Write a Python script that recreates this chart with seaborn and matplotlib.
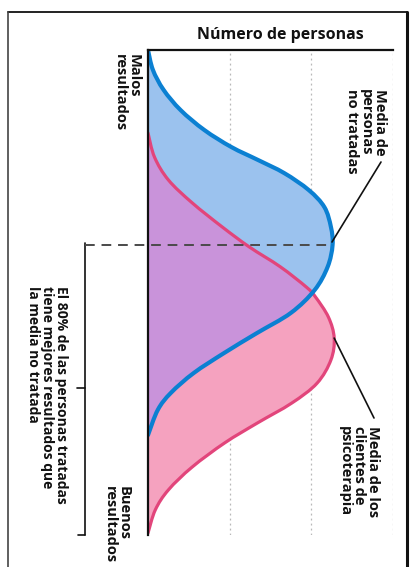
import numpy as np
import pandas as pd
import matplotlib
matplotlib.use("Agg")
import matplotlib.pyplot as plt
from matplotlib.patches import PathPatch
from matplotlib.path import Path
from matplotlib.lines import Line2D
import seaborn as sns

# ---- data ----
# outcome scale: 0 = worst (top) ... 10 = best (bottom); count in grid units
blue_outcome = [0.00, 0.41, 0.82, 1.24, 1.65, 2.00, 2.27, 2.54, 2.89, 3.24, 3.65,
                4.02, 4.47, 4.95, 5.42, 5.84, 6.25, 6.66, 7.07, 7.42, 7.94]
blue_count = [0.00, 0.06, 0.19, 0.40, 0.69, 1.02, 1.35, 1.67, 1.97, 2.16, 2.24,
              2.26, 2.20, 2.04, 1.75, 1.33, 0.93, 0.56, 0.28, 0.12, 0.00]
pink_outcome = [1.71, 2.21, 2.68, 3.15, 3.65, 4.06, 4.47, 4.89, 5.09, 5.51, 5.94,
                6.39, 6.87, 7.28, 7.69, 8.10, 8.60, 9.07, 9.48, 9.96]
pink_count = [0.00, 0.08, 0.25, 0.54, 0.91, 1.24, 1.62, 1.94, 2.05, 2.21, 2.28,
              2.24, 2.07, 1.76, 1.34, 0.94, 0.54, 0.25, 0.09, 0.00]
grid_x = [1, 2, 3]
untreated_mean = 4.02
treated_mean = 5.94

title = "Número de personas"
lbl_bad = "Malos\nresultados"
lbl_good = "Buenos\nresultados"
lbl_untreated = "Media de\npersonas\nno tratadas"
lbl_treated = "Media de los\nclientes de\npsicoterapia"
lbl_80 = "El 80% de las personas tratadas\ntiene mejores resultados que\nla media no tratada"

BLUE_LINE = "#0b80d2"
BLUE_FILL = "#9bc2ee"
PINK_LINE = "#e2457b"
PINK_FILL = "#f5a2bf"
PURPLE = "#c993da"

sns.set_theme(style="white")
plt.rcParams['font.family'] = ['Open Sans', 'DejaVu Sans']

W, H = 413, 567
fig = plt.figure(figsize=(W / 100, H / 100), dpi=100)
fig.patch.set_facecolor("white")

def fx(px):
    return px / W

def fy(py):
    return 1 - py / H

ax = fig.add_axes([fx(148), fy(535), fx(393) - fx(148), fy(50) - fy(535)])
ax.set_xlim(0, 3)
ax.set_ylim(10, 0)
ax.set_facecolor("none")

for g in grid_x:
    ax.axvline(g, color="#b8b8b8", lw=0.9, ls=(0, (1.5, 2.5)), zorder=0.5)

blue_df = pd.DataFrame({"outcome": blue_outcome, "count": blue_count})
pink_df = pd.DataFrame({"outcome": pink_outcome, "count": pink_count})


def smooth_path(xs, ys, close=False):
    """Smooth (Catmull-Rom as cubic Bezier) path through the given points."""
    P = np.column_stack([np.asarray(xs, float), np.asarray(ys, float)])
    n = len(P)
    verts = [P[0]]
    codes = [Path.MOVETO]
    for i in range(n - 1):
        p0 = P[i - 1] if i > 0 else P[i]
        p1, p2 = P[i], P[i + 1]
        p3 = P[i + 2] if i + 2 < n else P[i + 1]
        c1 = p1 + (p2 - p0) / 6.0
        c2 = p2 - (p3 - p1) / 6.0
        verts += [c1, c2, p2]
        codes += [Path.CURVE4] * 3
    if close:
        verts.append(P[0])
        codes.append(Path.CLOSEPOLY)
    return Path(verts, codes)


blue_area = PathPatch(smooth_path(blue_df["count"], blue_df["outcome"], close=True),
                      facecolor=BLUE_FILL, edgecolor="none", transform=ax.transData, zorder=1)
pink_area = PathPatch(smooth_path(pink_df["count"], pink_df["outcome"], close=True),
                      facecolor=PINK_FILL, edgecolor="none", transform=ax.transData, zorder=1)
over_area = PathPatch(smooth_path(pink_df["count"], pink_df["outcome"], close=True),
                      facecolor=PURPLE, edgecolor="none", transform=ax.transData, zorder=1.5)
ax.add_patch(blue_area)
ax.add_patch(pink_area)
ax.add_patch(over_area)
over_area.set_clip_path(blue_area)

pink_line = PathPatch(smooth_path(pink_df["count"], pink_df["outcome"]), facecolor="none",
                      edgecolor=PINK_LINE, lw=2.3, transform=ax.transData, zorder=3,
                      capstyle="round", joinstyle="round")
blue_line = PathPatch(smooth_path(blue_df["count"], blue_df["outcome"]), facecolor="none",
                      edgecolor=BLUE_LINE, lw=3.0, transform=ax.transData, zorder=4,
                      capstyle="round", joinstyle="round")
ax.add_patch(pink_line)
ax.add_patch(blue_line)

ax.set_xlabel("")
ax.set_ylabel("")
ax.set_xticks([])
ax.set_yticks([])
sns.despine(ax=ax, top=False, left=False, right=True, bottom=True)
for s in ["left", "top"]:
    ax.spines[s].set_color("#111111")
    ax.spines[s].set_linewidth(1.6)
    ax.spines[s].set_zorder(5)

# outer frame
def fline(x0, y0, x1, y1, **kw):
    fig.add_artist(Line2D([fx(x0), fx(x1)], [fy(y0), fy(y1)], transform=fig.transFigure, **kw))

fline(8, 12, 407, 12, color="#222222", lw=1.4)
fline(8, 12, 8, 567, color="#444444", lw=1.2)
fline(407, 12, 407, 567, color="#111111", lw=2.2)

fig_px = lambda x, y: fig.transFigure.inverted().transform(ax.transData.transform((x, y)))

# dashed line from bracket to blue peak
bx, by = fig_px(max(blue_count), untreated_mean)
fig.add_artist(Line2D([fx(85), bx], [by, by], transform=fig.transFigure,
                      color="#4a4a4a", lw=1.4, ls=(0, (5, 3.5)), zorder=5))
# bracket
fline(85, 243, 85, 535, color="#111111", lw=1.2)
fline(77, 388, 85, 388, color="#111111", lw=1.2)
fline(78, 535, 85, 535, color="#111111", lw=1.2)

# leader lines
fline(381, 162, 332, 242, color="#111111", lw=1.2)
px_t, py_t = fig_px(max(pink_count), treated_mean)
fig.add_artist(Line2D([px_t, fx(374)], [py_t, fy(418)], transform=fig.transFigure,
                      color="#111111", lw=1.2))

# texts
fig.text(fx(280), fy(35), title, ha="center", va="center", fontsize=11.5,
         fontweight="bold", color="#111111")
tkw = dict(rotation=270, ha="right", va="top", multialignment="left",
           fontweight="bold", color="#111111", linespacing=1.0)
fig.text(fx(141), fy(54), lbl_bad, fontsize=10.5, **tkw)
fig.text(fx(131), fy(486), lbl_good, fontsize=10.5, **tkw)
fig.text(fx(387), fy(89), lbl_untreated, fontsize=10.5, **tkw)
fig.text(fx(380), fy(426), lbl_treated, fontsize=10.5, **tkw)
fig.text(fx(68), fy(286), lbl_80, fontsize=10, **tkw)

fig.savefig("out.png", dpi=100)
